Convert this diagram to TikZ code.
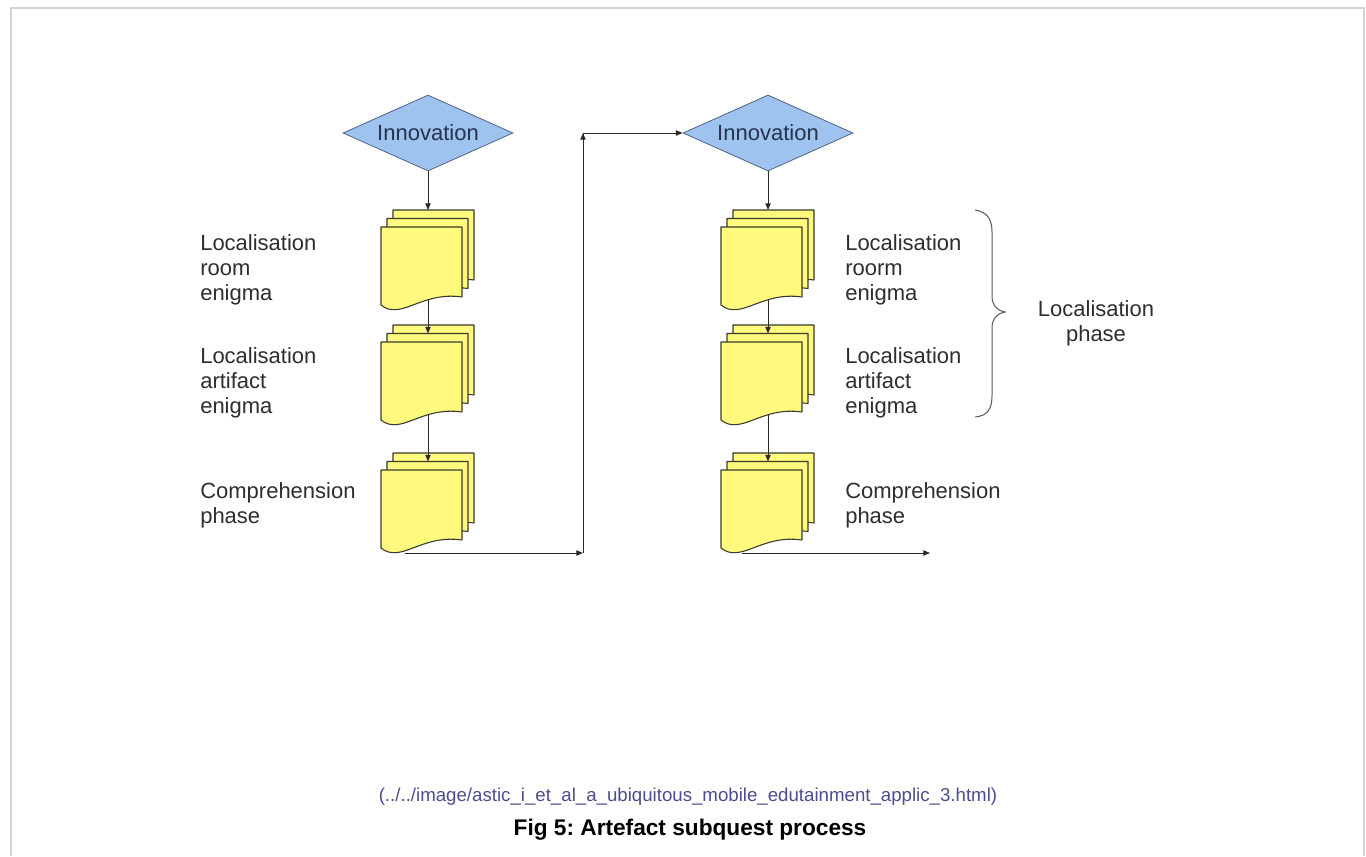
\documentclass[tikz,border=0pt]{standalone}
\usepackage{fontspec}
\setmainfont{Liberation Sans}
\usetikzlibrary{shapes.geometric,arrows.meta}
\frenchspacing
\definecolor{diafill}{HTML}{9DC3EE}
\definecolor{diaedge}{HTML}{4F6382}
\definecolor{diatext}{HTML}{26324E}
\definecolor{sheetfill}{HTML}{FFFA7E}
\definecolor{sheetedge}{HTML}{3A3A2A}
\definecolor{labeltext}{HTML}{2E2E2E}
\definecolor{linkcol}{HTML}{4B4E8E}
\definecolor{framecol}{HTML}{D4D4D4}
\definecolor{conncol}{HTML}{2A2A2A}
\tikzset{
  sheet/.style={draw=sheetedge, fill=sheetfill, line width=0.8pt, line join=round},
  dia/.style={diamond, aspect=2.24, draw=diaedge, fill=diafill, line width=0.6pt,
    minimum width=127.5pt, minimum height=57pt, inner sep=0pt, text=diatext,
    font=\fontsize{16.5pt}{19pt}\selectfont},
  lbl/.style={align=left, inner sep=0pt, text=labeltext,
    font=\fontsize{16.5pt}{18.75pt}\selectfont},
  conn/.style={draw=conncol, line width=0.75pt, -{Triangle[length=5pt,width=4pt]}},
  bracestyle/.style={draw=black!65, line width=0.75pt},
}
\newcommand{\onesheet}{\path[sheet] (0,0) -- (81,0) -- (81,70) .. controls (40,64) and (20,94) .. (0,78) -- cycle;}
\newcommand{\docstack}[2]{%
  \begin{scope}[shift={(#1,#2)}]
    \begin{scope}[shift={(12,-17)}]\onesheet\end{scope}
    \begin{scope}[shift={(6,-8.5)}]\onesheet\end{scope}
    \onesheet
  \end{scope}}
\begin{document}
\begin{tikzpicture}[x=0.75pt,y=-0.75pt]
\useasboundingbox (0,0) rectangle (1366,856);
\fill[white] (0,0) rectangle (1366,856);
\draw[framecol, line width=1.5pt] (11,856) -- (11,8) -- (1364,8) -- (1364,856);

% diamonds
\node[dia] (d1) at (428,133) {Innovation};
\node[dia] (d2) at (768,133) {Innovation};

% stacks
\docstack{381}{227}
\docstack{381}{342}
\docstack{381}{470}
\docstack{721}{227}
\docstack{721}{342}
\docstack{721}{470}

% connector points
\coordinate (a1) at (428,210);
\coordinate (b1) at (428,300);
\coordinate (a2) at (428,333.5);
\coordinate (b2) at (428,415);
\coordinate (a3) at (428,461.5);
\coordinate (b3) at (405,553);
\coordinate (k1) at (583,553);
\coordinate (k2) at (583,133);
\coordinate (e1) at (768,210);
\coordinate (f1) at (768,300);
\coordinate (e2) at (768,333.5);
\coordinate (f2) at (768,415);
\coordinate (e3) at (768,461.5);
\coordinate (f3) at (742,553);
\coordinate (endp) at (930,553);

\draw[conn] (d1.south) -- (a1);
\draw[conn] (b1) -- (a2);
\draw[conn] (b2) -- (a3);
\draw[conn] (b3) -- (k1);
\draw[conn] (k1) -- (k2);
\draw[conn] (k2) -- (d2.west);
\draw[conn] (d2.south) -- (e1);
\draw[conn] (f1) -- (e2);
\draw[conn] (f2) -- (e3);
\draw[conn] (f3) -- (endp);

% labels
\node[lbl, anchor=north west] (l1) at (200,234) {Localisation\\room\\enigma};
\node[lbl, anchor=north west] (l2) at (200,347) {Localisation\\artifact\\enigma};
\node[lbl, anchor=north west] (l3) at (200,482) {Comprehension\\phase};
\node[lbl, anchor=north west] (r1) at (845,234) {Localisation\\roorm\\enigma};
\node[lbl, anchor=north west] (r2) at (845,347) {Localisation\\artifact\\enigma};
\node[lbl, anchor=north west] (r3) at (845,482) {Comprehension\\phase};

% brace
\draw[bracestyle] (975,210) .. controls (988,212) and (992,220) .. (992,232)
  -- (992,296) .. controls (992,306) and (998,311) .. (1005,312)
  .. controls (998,313) and (992,318) .. (992,328)
  -- (992,396) .. controls (992,408) and (988,416) .. (975,417);
\node[lbl, align=center, anchor=north] (ph) at (1096,300) {Localisation\\phase};

% caption
\node[inner sep=0pt, text=linkcol, font=\fontsize{14pt}{16pt}\selectfont] (url) at (688,797)
  {(../../image/astic\_i\_et\_al\_a\_ubiquitous\_mobile\_edutainment\_applic\_3.html)};
\node[inner sep=0pt, font=\bfseries\fontsize{17pt}{20pt}\selectfont] (cap) at (690,830)
  {Fig 5: Artefact subquest process};
\end{tikzpicture}
\end{document}
